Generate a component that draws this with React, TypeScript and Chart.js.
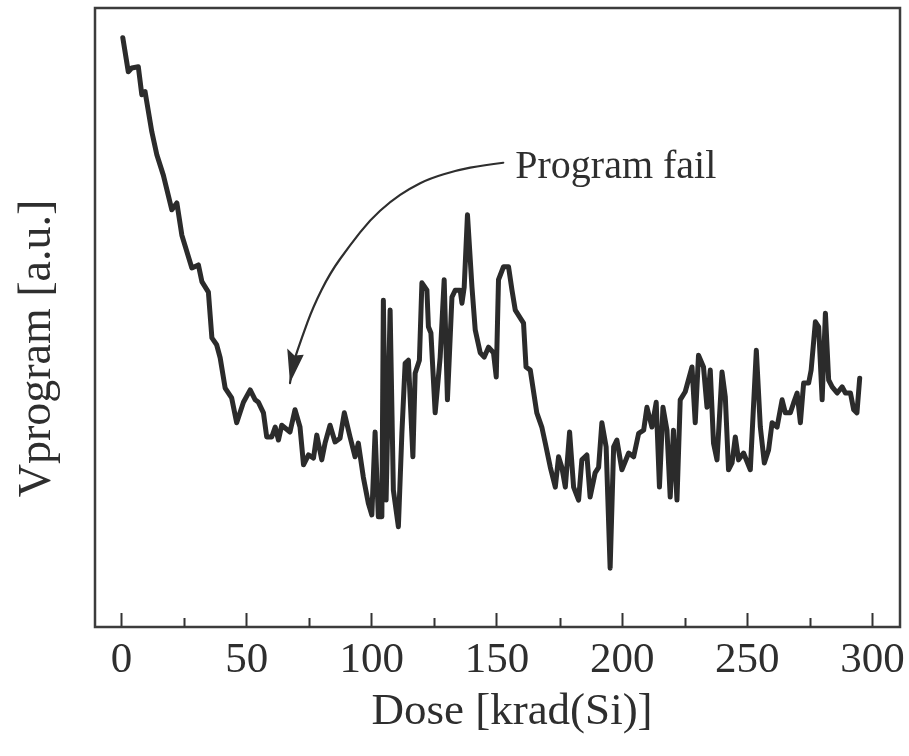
import React, { useEffect, useRef } from "react";
import { Chart, registerables } from "chart.js";

Chart.register(...registerables);

// Dose [krad(Si)]
const dose = [
  0.5, 2.7, 4.1, 6.7, 8.1, 9.4, 12.1, 14.1, 16.7, 20.1, 22.1, 24.1, 28.1, 30.7, 32.1, 34.7, 36.1, 38.0, 39.4, 41.4,
  44.0, 46.0, 48.7, 51.4, 53.4, 54.7, 56.7, 58.0, 60.0, 61.4, 62.7, 64.0, 67.3, 69.3, 71.3, 72.7, 74.7, 76.7, 78.0, 80.0,
  81.3, 83.3, 85.3, 87.3, 89.0, 91.3, 93.3, 94.6, 96.6, 98.6, 100.0, 101.3, 102.6, 104.0, 104.6, 105.7, 107.3, 108.6, 110.6, 112.0,
  113.3, 114.6, 116.4, 117.3, 119.0, 120.0, 122.0, 122.6, 123.6, 125.3, 127.3, 128.9, 130.2, 132.0, 133.3, 135.3, 136.0, 136.9, 138.2, 140.0,
  141.3, 143.3, 144.9, 146.6, 148.6, 149.7, 150.6, 152.6, 154.6, 156.0, 157.3, 160.6, 161.6, 163.3, 165.9, 167.9, 169.3, 171.3, 173.3, 174.6,
  175.9, 177.3, 179.0, 180.6, 182.6, 183.9, 185.9, 187.2, 189.2, 190.6, 191.9, 193.6, 195.2, 196.6, 197.9, 199.9, 202.6, 204.6, 206.6, 208.6,
  209.9, 211.9, 213.6, 214.9, 216.3, 217.9, 219.2, 220.5, 221.9, 223.2, 225.2, 227.9, 229.2, 230.5, 232.5, 233.9, 235.2, 236.5, 237.9, 239.9,
  241.2, 242.5, 243.9, 245.2, 246.5, 248.5, 251.2, 253.6, 255.2, 256.8, 258.5, 259.9, 261.9, 263.9, 265.2, 267.2, 268.5, 269.9, 271.2, 272.5,
  274.5, 275.5, 277.2, 278.5, 279.9, 281.2, 282.5, 283.9, 285.9, 287.9, 289.2, 291.2, 292.5, 293.8, 294.9,
];

// Vprogram [a.u.]
const vprogram = [
  95.2, 89.7, 90.3, 90.5, 86.0, 86.5, 80.0, 76.3, 73.0, 67.4, 68.5, 63.3, 58.0, 58.5, 55.8, 54.1, 46.7, 45.6, 43.5, 38.6,
  37.0, 33.0, 36.3, 38.3, 36.7, 36.3, 34.6, 30.7, 30.7, 32.3, 30.2, 32.6, 31.5, 35.1, 32.3, 26.2, 27.8, 27.3, 31.0, 27.0,
  29.7, 32.6, 29.9, 30.5, 34.6, 30.7, 27.5, 29.7, 24.2, 20.0, 18.1, 31.5, 17.8, 17.8, 52.8, 20.5, 51.2, 22.1, 16.2, 31.3,
  42.6, 43.1, 27.5, 41.0, 43.1, 55.6, 54.4, 48.5, 47.5, 34.6, 43.6, 56.1, 36.7, 53.3, 54.4, 54.4, 52.3, 54.9, 66.6, 54.9,
  48.0, 44.3, 43.6, 45.2, 44.3, 40.4, 56.1, 58.2, 58.2, 54.4, 51.2, 49.1, 42.0, 41.5, 34.6, 32.3, 29.7, 25.8, 22.6, 27.5,
  25.8, 22.6, 31.5, 22.6, 20.5, 27.0, 27.8, 21.0, 24.9, 25.8, 33.0, 29.1, 9.5, 29.1, 30.2, 25.4, 28.1, 27.5, 31.3, 31.8,
  35.5, 32.3, 36.3, 22.6, 35.5, 31.8, 21.0, 31.8, 20.5, 36.7, 38.0, 42.0, 33.0, 43.9, 42.0, 35.5, 41.5, 29.7, 27.0, 41.2,
  37.2, 25.4, 26.5, 30.7, 27.0, 28.1, 25.4, 44.7, 32.3, 26.5, 28.6, 33.0, 32.3, 36.7, 34.6, 34.6, 36.2, 37.8, 33.0, 39.4,
  39.4, 41.5, 49.3, 48.5, 36.7, 50.7, 39.9, 38.8, 37.8, 38.8, 37.8, 37.8, 35.1, 34.6, 40.2,
];

const xTicks = [0, 50, 100, 150, 200, 250, 300];
const xMinorTicks = [25, 75, 125, 175, 225, 275];

const xTitle = "Dose [krad(Si)]";
const yTitle = "Vprogram [a.u.]";
const noteText = "Program fail";

// annotation arrow path in data units (dose, Vprogram)
const arrowDose = [152.5, 144.5, 134.1, 123.3, 115.3, 107.3, 99.3, 91.3, 83.3, 76.5, 72.1, 68.5, 67.3];
const arrowVal = [75.0, 74.6, 73.8, 72.5, 70.9, 68.7, 65.8, 61.7, 57.2, 51.7, 46.8, 42.6, 39.4];
const arrowHeadDose = [66.2, 67.3, 72.8];
const arrowHeadVal = [45.0, 39.4, 44.0];
const noteDose = 157.3;
const noteVal = 72.6;

const FONT = '"Liberation Serif", "Times New Roman", serif';
const INK = "#2e2e2e";

const decorPlugin = {
  id: "decor",
  afterDraw(chart: any) {
    const { ctx, chartArea } = chart;
    const xs = chart.scales.x;
    const ys = chart.scales.y;
    ctx.save();
    // frame
    ctx.strokeStyle = "#3c3c3c";
    ctx.lineWidth = 2.5;
    ctx.strokeRect(chartArea.left, chartArea.top, chartArea.right - chartArea.left, chartArea.bottom - chartArea.top);
    // minor ticks
    ctx.lineWidth = 2;
    ctx.strokeStyle = "#333";
    ctx.beginPath();
    for (const v of xMinorTicks) {
      const px = Math.round(xs.getPixelForValue(v)) + 0.5;
      ctx.moveTo(px, chartArea.bottom);
      ctx.lineTo(px, chartArea.bottom - 9);
    }
    ctx.stroke();

    // arrow curve
    const pts = arrowDose.map((d, i) => [xs.getPixelForValue(d), ys.getPixelForValue(arrowVal[i])]);
    ctx.strokeStyle = INK;
    ctx.lineWidth = 2.2;
    ctx.lineJoin = "round";
    ctx.lineCap = "round";
    ctx.beginPath();
    ctx.moveTo(pts[0][0], pts[0][1]);
    for (let i = 1; i < pts.length - 1; i++) {
      const mx = (pts[i][0] + pts[i + 1][0]) / 2;
      const my = (pts[i][1] + pts[i + 1][1]) / 2;
      ctx.quadraticCurveTo(pts[i][0], pts[i][1], mx, my);
    }
    const last = pts[pts.length - 1];
    ctx.lineTo(last[0], last[1]);
    ctx.stroke();
    // arrow head
    const hp = arrowHeadDose.map((d, i) => [xs.getPixelForValue(d), ys.getPixelForValue(arrowHeadVal[i])]);
    ctx.fillStyle = INK;
    ctx.beginPath();
    ctx.moveTo(hp[0][0], hp[0][1]);
    ctx.lineTo(hp[1][0], hp[1][1]);
    ctx.lineTo(hp[2][0], hp[2][1]);
    ctx.lineTo((hp[0][0] + hp[2][0]) / 2 - 1, (hp[0][1] + hp[2][1]) / 2 + 4);
    ctx.closePath();
    ctx.fill();

    // note text
    ctx.fillStyle = INK;
    ctx.font = `40px ${FONT}`;
    ctx.textAlign = "left";
    ctx.textBaseline = "alphabetic";
    ctx.fillText(noteText, xs.getPixelForValue(noteDose), ys.getPixelForValue(noteVal));

    // x title
    ctx.font = `45px ${FONT}`;
    ctx.textAlign = "center";
    ctx.textBaseline = "middle";
    ctx.fillText(xTitle, xs.getPixelForValue(156), 712);

    // y title
    ctx.translate(38, ys.getPixelForValue(45));
    ctx.rotate(-Math.PI / 2);
    ctx.font = `46px ${FONT}`;
    ctx.textAlign = "center";
    ctx.textBaseline = "middle";
    ctx.fillText(yTitle, 0, 0);
    ctx.restore();
  },
};

export default function App() {
  const ref = useRef<HTMLCanvasElement | null>(null);

  useEffect(() => {
    document.body.style.margin = "0";
    const canvas = ref.current!;
    const chart = new Chart(canvas, {
      type: "line",
      data: {
        datasets: [
          {
            label: "Vprogram",
            data: dose.map((d, i) => ({ x: d, y: vprogram[i] })),
            borderColor: "#2b2b2b",
            borderWidth: 5,
            pointRadius: 0,
            tension: 0,
            borderJoinStyle: "round",
            borderCapStyle: "round",
            fill: false,
          },
        ],
      },
      options: {
        animation: false,
        responsive: false,
        devicePixelRatio: 1,
        layout: { padding: { left: 0, top: 8, right: 9, bottom: 0 } },
        plugins: { legend: { display: false }, tooltip: { enabled: false }, title: { display: false } },
        scales: {
          x: {
            type: "linear",
            min: -10.6,
            max: 311,
            afterBuildTicks: (scale: any) => {
              scale.ticks = xTicks.map((v) => ({ value: v }));
            },
            afterFit: (scale: any) => {
              scale.height = 129;
              scale.paddingLeft = 0;
              scale.paddingRight = 0;
            },
            border: { display: false },
            grid: {
              drawOnChartArea: false,
              drawTicks: true,
              tickLength: -14,
              tickWidth: 2,
              tickColor: "#333",
            },
            ticks: {
              autoSkip: false,
              maxRotation: 0,
              padding: 22,
              color: INK,
              font: { family: FONT, size: 43 },
              callback: (v: any) => String(v),
            },
            title: { display: false },
          },
          y: {
            type: "linear",
            min: 0,
            max: 100,
            afterFit: (scale: any) => {
              scale.width = 95;
              scale.paddingTop = 0;
              scale.paddingBottom = 0;
            },
            border: { display: false },
            grid: { display: false, drawTicks: false },
            ticks: { display: false },
            title: { display: false },
          },
        },
      },
      plugins: [decorPlugin],
    });
    return () => chart.destroy();
  }, []);

  return <canvas ref={ref} width={909} height={756} style={{ display: "block" }} />;
}
